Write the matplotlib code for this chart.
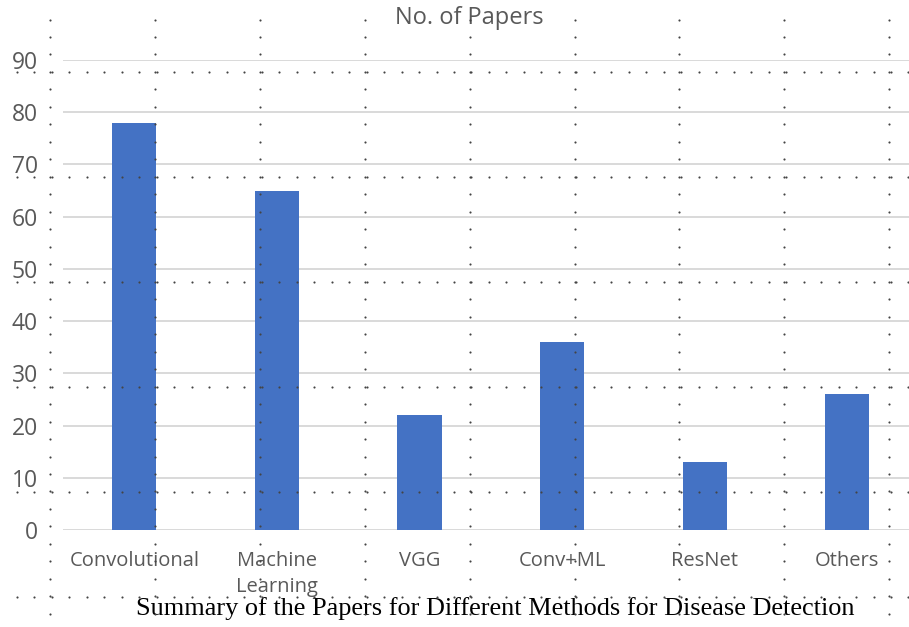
import numpy as np
import matplotlib
matplotlib.use("Agg")
from matplotlib import pyplot as plt

# chart data
methods = ["Convolutional", "Machine\nLearning", "VGG", "Conv+ML", "ResNet", "Others"]
papers = [78, 65, 22, 36, 13, 26]
y_ticks = [0, 10, 20, 30, 40, 50, 60, 70, 80, 90]

W, H = 909, 627
fig = plt.figure(figsize=(W / 100, H / 100), dpi=100)
fig.patch.set_facecolor("white")

# plot area in pixels: left 63, zero line at y=530, 90 line at y=60
ax = fig.add_axes([63 / W, 1 - 530 / H, (W - 63) / W, (530 - 60) / H])
x = np.arange(len(methods))
ax.bar(x, papers, width=0.31, color="#4472C4", zorder=3)
ax.set_xlim(-0.5, -0.5 + (W - 63) / 142.6)
ax.set_ylim(0, 90)
ax.set_yticks(y_ticks)
ax.set_xticks(x)
ax.set_xticklabels(methods, fontfamily="Open Sans", fontsize=14.5, color="#595959",
                   linespacing=1.4)
ax.tick_params(axis="y", length=0, pad=18, labelsize=16.5, labelcolor="#595959")
ax.tick_params(axis="x", length=0, pad=15)
for lab in ax.get_yticklabels():
    lab.set_fontfamily("Open Sans")
ax.grid(axis="y", color="#d9d9d9", linewidth=1.4, zorder=0)
for s in ax.spines.values():
    s.set_visible(False)

fig.text(469 / W, 1 - 18 / H, "No. of Papers", ha="center", va="center",
         fontfamily="Open Sans", fontsize=17, color="#595959")
fig.text(495 / W, 1 - 609 / H,
         "Summary of the Papers for Different Methods for Disease Detection",
         ha="center", va="center", fontfamily="Liberation Serif", fontsize=18.9,
         color="black")

# dotted layout grid drawn over the picture
ov = fig.add_axes([0, 0, 1, 1], zorder=10)
ov.set_xlim(0, W)
ov.set_ylim(H, 0)
ov.axis("off")
ov.patch.set_alpha(0)
step = 17.48
col_x = 50 + 104.9 * np.arange(9)
row_y = 72 + 104.9 * np.arange(6)
ys = 19.5 + step * np.arange(36)
xs = -0.5 + step * np.arange(1, 53)
vx, vy = np.meshgrid(col_x, ys)
hx, hy = np.meshgrid(xs, row_y)
ov.scatter(vx.ravel(), vy.ravel(), s=2.4, color="#444444", linewidths=0)
ov.scatter(hx.ravel(), hy.ravel(), s=2.4, color="#444444", linewidths=0)

fig.savefig("out.png", dpi=100)
